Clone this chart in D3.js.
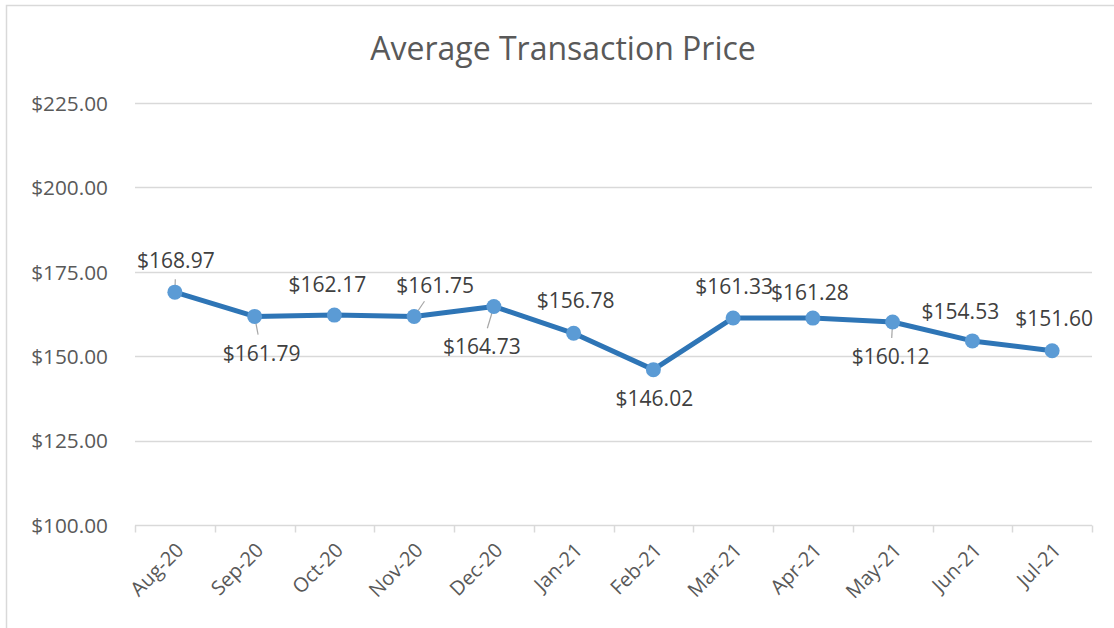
<!DOCTYPE html>
<html>
<head>
<meta charset="utf-8">
<script src="https://cdn.jsdelivr.net/npm/d3@7"></script>
<style>
  body { margin: 0; background: #fff; }
  svg { display: block; font-family: "Open Sans", "Noto Sans", sans-serif; }
</style>
</head>
<body>
<svg id="chart" width="1114" height="628"></svg>
<script>
// data
const months = ["Aug-20", "Sep-20", "Oct-20", "Nov-20", "Dec-20", "Jan-21",
                "Feb-21", "Mar-21", "Apr-21", "May-21", "Jun-21", "Jul-21"];
const prices = [168.97, 161.79, 162.17, 161.75, 164.73, 156.78,
                146.02, 161.33, 161.28, 160.12, 154.53, 151.60];
const yTicks = [100, 125, 150, 175, 200, 225];

// label placement (dx, dy from the point) and whether a leader line is drawn
const labelOffsets = [[1, -32], [7, 37], [-7, -30], [21, -31], [-12, 40], [2, -33],
                      [1, 29], [1, -31], [-3, -25], [-2, 35], [-12, -29], [2, -32]];
const leaders = [true, true, false, true, true, false, false, false, false, true, false, false];

const width = 1114, height = 628;
const margin = { left: 135, right: 22, top: 103, bottom: 103 };

const svg = d3.select("#chart");

// outer chart border
svg.append("rect")
    .attr("x", 6.5).attr("y", 5.5)
    .attr("width", 1130).attr("height", 640)
    .attr("fill", "none")
    .attr("stroke", "#d9d9d9")
    .attr("stroke-width", 1.5);

const x = d3.scaleBand()
    .domain(months)
    .range([margin.left, width - margin.right]);

const y = d3.scaleLinear()
    .domain([100, 225])
    .range([height - margin.bottom, margin.top]);

// title
svg.append("text")
    .attr("x", 563).attr("y", 60)
    .attr("text-anchor", "middle")
    .attr("font-size", 32)
    .attr("fill", "#595959")
    .text("Average Transaction Price");

// gridlines
svg.append("g")
    .selectAll("line")
    .data(yTicks.filter(d => d > 100))
    .join("line")
    .attr("x1", margin.left).attr("x2", width - margin.right)
    .attr("y1", d => Math.round(y(d)) + 0.5)
    .attr("y2", d => Math.round(y(d)) + 0.5)
    .attr("stroke", "#d9d9d9")
    .attr("stroke-width", 1.5);

// y axis labels
const yAxis = svg.append("g")
    .attr("transform", `translate(${margin.left - 27},0)`)
    .call(d3.axisLeft(y).tickValues(yTicks).tickSize(0).tickFormat(d => "$" + d3.format(".2f")(d)));
yAxis.select(".domain").remove();
yAxis.selectAll("text")
    .attr("font-family", "Open Sans, Noto Sans, sans-serif")
    .attr("font-size", 20.8)
    .attr("fill", "#595959")
    .attr("text-anchor", "end")
    .attr("dy", "0.35em")
    .attr("x", 0);

// x axis with ticks at band boundaries
const base = Math.round(y(100)) + 0.5;
const xAxis = svg.append("g");
xAxis.append("line")
    .attr("x1", margin.left).attr("x2", width - margin.right)
    .attr("y1", base).attr("y2", base)
    .attr("stroke", "#d9d9d9").attr("stroke-width", 1.5);
xAxis.selectAll(".tick")
    .data(months.map(m => x(m)).concat([width - margin.right]))
    .join("line")
    .attr("x1", d => Math.round(d) + 0.5).attr("x2", d => Math.round(d) + 0.5)
    .attr("y1", base).attr("y2", base + 7)
    .attr("stroke", "#d9d9d9").attr("stroke-width", 1.5);
xAxis.selectAll("text")
    .data(months)
    .join("text")
    .attr("transform", d => `translate(${x(d) + x.bandwidth() / 2 + 5},${base + 21}) rotate(-45)`)
    .attr("text-anchor", "end")
    .attr("dy", "0.35em")
    .attr("font-size", 20)
    .attr("fill", "#595959")
    .text(d => d);

// line
const pts = months.map((m, i) => ({ m, v: prices[i], i }));
const cx = d => x(d.m) + x.bandwidth() / 2;

svg.append("path")
    .datum(pts)
    .attr("fill", "none")
    .attr("stroke", "#2e75b6")
    .attr("stroke-width", 5)
    .attr("stroke-linejoin", "round")
    .attr("d", d3.line().x(cx).y(d => y(d.v)));

// leader lines
svg.append("g")
    .selectAll("line")
    .data(pts.filter(d => leaders[d.i]))
    .join("line")
    .attr("x1", d => cx(d))
    .attr("y1", d => y(d.v))
    .attr("x2", d => {
        const [dx, dy] = labelOffsets[d.i];
        const k = 1 - 19 / Math.hypot(dx, dy);
        return cx(d) + dx * k;
    })
    .attr("y2", d => {
        const [dx, dy] = labelOffsets[d.i];
        const k = 1 - 19 / Math.hypot(dx, dy);
        return y(d.v) + dy * k;
    })
    .attr("stroke", "#a6a6a6")
    .attr("stroke-width", 1.2);

// markers
svg.append("g")
    .selectAll("circle")
    .data(pts)
    .join("circle")
    .attr("cx", cx)
    .attr("cy", d => y(d.v))
    .attr("r", 7.5)
    .attr("fill", "#5b9bd5");

// data labels
svg.append("g")
    .selectAll("text")
    .data(pts)
    .join("text")
    .attr("x", d => cx(d) + labelOffsets[d.i][0])
    .attr("y", d => y(d.v) + labelOffsets[d.i][1])
    .attr("dy", "0.35em")
    .attr("text-anchor", "middle")
    .attr("font-size", 21)
    .attr("fill", "#404040")
    .text(d => "$" + d3.format(".2f")(d.v));
</script>
</body>
</html>
